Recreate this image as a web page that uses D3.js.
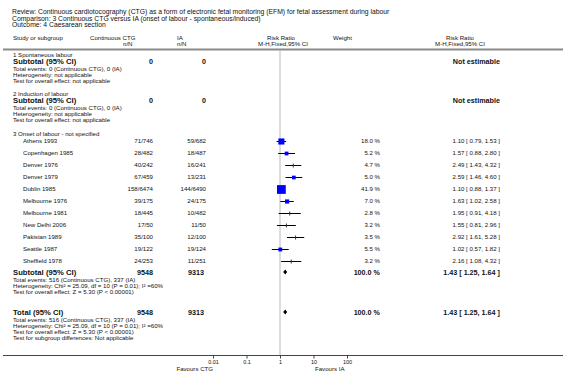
<!DOCTYPE html>
<html><head><meta charset="utf-8">
<script src="https://cdn.jsdelivr.net/npm/d3@7"></script>
<style>
html,body{margin:0;padding:0;background:#fff;}
svg{display:block;font-family:"Liberation Sans",Arial,sans-serif;}
</style></head>
<body>
<svg id="c" width="566" height="372"></svg>
<script>
// ---------- data ----------
const titleLines = [
  "Review:  Continuous cardiotocography (CTG) as a form of electronic fetal monitoring (EFM) for fetal assessment during labour",
  "Comparison:  3 Continuous CTG versus IA (onset of labour - spontaneous/induced)",
  "Outcome:  4 Caesarean section"
];
const studies = ["Athens 1993","Copenhagen 1985","Denver 1976","Denver 1979","Dublin 1985","Melbourne 1976","Melbourne 1981","New Delhi 2006","Pakistan 1989","Seattle 1987","Sheffield 1978"];
const ctgEvents = [71,28,40,67,158,39,18,17,35,19,24];
const ctgTotal  = [746,482,242,459,6474,175,445,50,100,122,253];
const iaEvents  = [59,18,16,13,144,24,10,11,12,19,11];
const iaTotal   = [682,487,241,231,6490,175,482,50,100,124,251];
const weights   = [18.0,5.2,4.7,5.0,41.9,7.0,2.8,3.2,3.5,5.5,3.2];
const rr        = [1.10,1.57,2.49,2.59,1.10,1.63,1.95,1.55,2.92,1.02,2.16];
const rrLow     = [0.79,0.88,1.43,1.46,0.88,1.02,0.91,0.81,1.61,0.57,1.08];
const rrHigh    = [1.53,2.80,4.32,4.60,1.37,2.58,4.18,2.96,5.28,1.82,4.32];
const pooled    = {rr:1.43, lo:1.25, hi:1.64, ctgN:9548, iaN:9313, ctgE:516, iaE:337};
const axisTicks = [0.01,0.1,1,10,100];
const axisTickLabels = ["0.01","0.1","1","10","100"];
const groupNames = ["1 Spontaneous labour","2 Induction of labour","3 Onset of labour - not specified"];

// ---------- drawing ----------
const svg = d3.select("#c");
const FS = 6.1, FB = 7.2, FSUB = 7.7, FT = 6.8;
const x = d3.scaleLog().domain([0.01,100]).range([213,347]);
const colCtg = 153, colIa = 206, colW = 380, colCI = 500, xLeft = 13, xStudy = 23;

function txt(s, px, py, opt={}) {
  return svg.append("text").attr("x",px).attr("y",py).attr("dy","0.35em")
    .attr("font-size",opt.size||FS).attr("font-weight",opt.bold?"bold":"normal")
    .attr("text-anchor",opt.anchor||"start").attr("fill",opt.fill||"#111").text(s);
}
const fmt2 = d3.format(".2f");
const ciText = (r,l,h) => `${fmt2(r)} [ ${fmt2(l)}, ${fmt2(h)} ]`;

// title
titleLines.forEach((t,i)=>txt(t, 12, [12,19,25][i], {size:FT}));

// header
txt("Study or subgroup", xLeft, 38);
txt("Continuous CTG", 90, 38);
txt("n/N", 123, 44);
txt("IA", 177, 38);
txt("n/N", 177, 44);
txt("Risk Ratio", 281, 38, {anchor:"middle"});
txt("M-H,Fixed,95% CI", 283, 44, {anchor:"middle"});
txt("Weight", 333, 38);
txt("Risk Ratio", 460, 38, {anchor:"middle"});
txt("M-H,Fixed,95% CI", 460, 44, {anchor:"middle"});
svg.append("line").attr("x1",3).attr("x2",563).attr("y1",49.5).attr("y2",49.5)
  .attr("stroke","#8a8a8a").attr("stroke-width",2);

// reference vertical line at RR = 1
svg.append("line").attr("x1",x(1)).attr("x2",x(1)).attr("y1",51).attr("y2",355)
  .attr("stroke","#dcdcdc").attr("stroke-width",2);

// empty subgroups 1 and 2
[[54.5,61],[93.5,100]].forEach(([gy,sy],i)=>{
  txt(groupNames[i], xLeft, gy);
  txt("Subtotal (95% CI)", xLeft, sy, {bold:true,size:FSUB});
  txt("0", colCtg, sy, {bold:true,size:FB,anchor:"end"});
  txt("0", colIa, sy, {bold:true,size:FB,anchor:"end"});
  txt("Not estimable", colCI, sy, {bold:true,size:FB,anchor:"end"});
  txt("Total events: 0 (Continuous CTG), 0 (IA)", xLeft, sy+7.6);
  txt("Heterogeneity: not applicable", xLeft, sy+13.9);
  txt("Test for overall effect: not applicable", xLeft, sy+20.2);
});

// subgroup 3
txt(groupNames[2], xLeft, 134);
const y0 = 141, dy = 12;
const side = w => 1.2*Math.sqrt(w)+1;
studies.forEach((s,i)=>{
  const yy = y0 + i*dy;
  txt(s, xStudy, yy);
  txt(`${ctgEvents[i]}/${ctgTotal[i]}`, colCtg, yy, {anchor:"end"});
  txt(`${iaEvents[i]}/${iaTotal[i]}`, colIa, yy, {anchor:"end"});
  txt(`${weights[i].toFixed(1)} %`, colW, yy, {anchor:"end"});
  txt(ciText(rr[i],rrLow[i],rrHigh[i]), colCI, yy, {anchor:"end"});
  svg.append("line").attr("x1",x(rrLow[i])).attr("x2",x(rrHigh[i])).attr("y1",yy+0.5).attr("y2",yy+0.5)
    .attr("stroke","#000").attr("stroke-width",1);
  if (weights[i] >= 5) {
    const sd = side(weights[i]);
    svg.append("rect").attr("x",x(rr[i])-sd/2).attr("y",yy+0.5-sd/2).attr("width",sd).attr("height",sd)
      .attr("fill","#0000ff");
  } else {
    svg.append("line").attr("x1",x(rr[i])).attr("x2",x(rr[i])).attr("y1",yy-1.5).attr("y2",yy+2.5)
      .attr("stroke","#333").attr("stroke-width",1);
  }
});

function diamond(yy){
  const p = [[x(pooled.lo),yy],[x(pooled.rr),yy-2.6],[x(pooled.hi),yy],[x(pooled.rr),yy+2.6]];
  svg.append("path").attr("d","M"+p.join("L")+"Z").attr("fill","#000");
}
function summaryBlock(label, yy, extra){
  txt(label, xLeft, yy, {bold:true,size:FSUB});
  txt(String(pooled.ctgN), colCtg, yy, {bold:true,size:FB,anchor:"end"});
  txt(String(pooled.iaN), colIa-2, yy, {bold:true,size:FB,anchor:"end"});
  txt("100.0 %", colW, yy, {bold:true,size:FB,anchor:"end"});
  txt(ciText(pooled.rr,pooled.lo,pooled.hi), colCI, yy, {bold:true,size:FB,anchor:"end"});
  diamond(yy);
  const lines = [
    `Total events: ${pooled.ctgE} (Continuous CTG), ${pooled.iaE} (IA)`,
    "Heterogeneity: Chi\u00B2 = 25.09, df = 10 (P = 0.01); I\u00B2 =60%",
    "Test for overall effect: Z = 5.30 (P < 0.00001)"
  ].concat(extra);
  lines.forEach((l,k)=>txt(l, xLeft, yy+7.6+k*6));
}
summaryBlock("Subtotal (95% CI)", 272, []);
summaryBlock("Total (95% CI)", 312, ["Test for subgroup differences: Not applicable"]);

// axis
svg.append("line").attr("x1",3).attr("x2",563).attr("y1",355.5).attr("y2",355.5)
  .attr("stroke","#444").attr("stroke-width",1);
const ax = d3.axisBottom(x).tickValues(axisTicks).tickSize(3)
  .tickFormat((d,i)=>axisTickLabels[i]);
const g = svg.append("g").attr("transform","translate(0,355.5)").call(ax);
g.select(".domain").remove();
g.selectAll(".tick line").attr("stroke","#444");
g.selectAll(".tick text").attr("font-size",5.5).attr("font-family","Liberation Sans, Arial, sans-serif")
  .attr("fill","#111").attr("dy","0.35em").attr("y",6.5);
txt("Favours CTG", 213, 369, {anchor:"end"});
txt("Favours IA", 315, 369);
</script>
</body></html>
